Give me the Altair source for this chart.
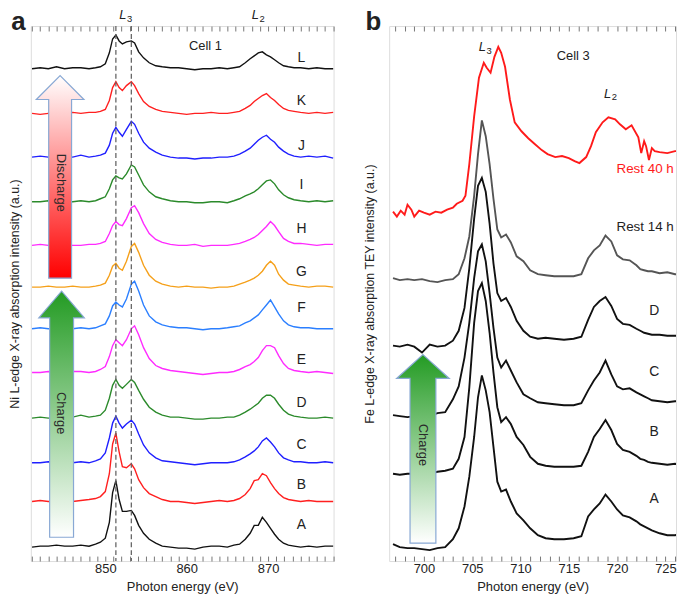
import altair as alt
import pandas as pd

FONT = "Liberation Sans"
TEXT = "#222222"

# ---------------- Panel a: Ni L-edge, Cell 1 ----------------
energy_a = [841, 842, 843, 844, 845, 846, 847, 848, 848.8, 849.4,
            850.0, 850.5, 850.9, 851.3, 851.7, 852.1, 852.6,
            853.2, 853.6, 854.1, 854.7, 855.4, 856.2, 857.0,
            858, 859, 860, 861, 862, 863, 864, 865,
            865.8, 866.5, 867.2, 867.8, 868.3, 868.8, 869.3, 869.8,
            870.3, 870.8, 871.3, 871.9, 872.5, 873.2,
            874, 875, 876, 877, 878]

names_a = ["A", "B", "C", "D", "E", "F", "G", "H", "I", "J", "K", "L"]
colors_a = ["#111111", "#ff1f1f", "#1f1fff", "#2b8a2b", "#ff2bff", "#2b7fff",
            "#f5a01a", "#ff2bff", "#2b8a2b", "#1f1fff", "#ff1f1f", "#111111"]
offsets_a = [14, 60, 99, 144, 190, 234, 276, 318, 362, 407, 451, 496]

ni_A = [0, 1, 1, 2, 1, 1, 2, 1, 3, 5, 9, 25, 55, 67, 48, 36, 36, 37, 32, 22, 14, 8, 4, 1,
        0, -1, -1, -2, 0, 1, 1, 0, 2, 3, 8, 14, 22, 22, 30, 25, 19, 13, 8, 4, 2, 1, 0, 1, 0, 1, 1]
ni_B = [0, 1, 0, 0, 1, 0, 1, 2, 3, 5, 10, 28, 58, 69, 50, 35, 34, 38, 33, 22, 14, 8, 5, 2,
        0, 0, -1, -2, -1, 0, 1, 0, 1, 3, 7, 13, 21, 22, 28, 26, 19, 13, 8, 4, 2, 1, 0, 1, 0, 0, 0]
ni_C = [0, 0, 1, 0, -1, 0, 1, 0, 2, 4, 10, 25, 40, 47, 40, 35, 39, 43, 39, 29, 18, 10, 5, 2,
        1, 0, -1, -2, -1, 0, 0, 0, 1, 3, 6, 9, 12, 16, 22, 25, 21, 16, 10, 5, 3, 1, 1, 0, 0, 1, 0]
ni_D = [0, 1, 0, 1, 0, 1, 3, 1, 2, 3, 8, 20, 33, 39, 33, 30, 34, 39, 36, 28, 19, 11, 6, 3,
        1, 1, 0, -1, -1, 0, 0, 1, 1, 3, 6, 9, 12, 15, 20, 23, 23, 20, 14, 8, 4, 2, 1, 0, 0, 1, 0]
ni_E = [0, 0, 1, 0, 0, 1, 1, 0, 1, 3, 6, 16, 27, 33, 30, 27, 33, 44, 47, 38, 25, 14, 7, 4,
        2, 1, 0, -1, -2, -1, 0, 0, 1, 3, 6, 8, 11, 15, 22, 27, 27, 25, 17, 9, 4, 2, 1, 0, 1, 0, -1]
ni_F = [0, 1, 0, 0, 1, 0, 1, 0, 1, 3, 5, 13, 23, 27, 24, 22, 30, 45, 48, 38, 24, 13, 7, 4,
        2, 1, 1, 0, -1, 0, 0, 1, 2, 3, 6, 8, 11, 14, 19, 24, 29, 22, 15, 8, 4, 2, 1, 1, 0, 0, 0]
ni_G = [0, 0, 1, 0, 0, 1, 0, 0, 1, 2, 4, 12, 21, 24, 19, 17, 26, 41, 44, 35, 22, 12, 6, 3,
        1, 0, 1, 0, 0, -1, 0, 0, 1, 3, 5, 7, 9, 12, 16, 22, 26, 22, 13, 7, 3, 2, 1, 0, 1, 1, 0]
ni_H = [0, 1, 0, 0, 1, 0, 0, 1, 1, 2, 4, 12, 20, 24, 21, 20, 27, 38, 40, 33, 22, 12, 6, 3,
        1, 0, 0, 1, -1, 0, 0, 0, 1, 2, 4, 6, 8, 11, 15, 19, 24, 20, 14, 7, 4, 2, 2, 1, 0, 1, 1]
ni_I = [0, 0, 1, 0, -1, 0, 1, 0, 1, 3, 5, 13, 22, 26, 24, 23, 28, 37, 35, 27, 17, 10, 5, 3,
        1, 0, 0, -1, -1, 0, 0, -1, 1, 3, 6, 8, 10, 13, 17, 21, 22, 18, 12, 7, 4, 2, 1, 0, 1, 0, 1]
ni_J = [0, 1, 0, -1, 1, 0, 2, 0, 1, 2, 4, 12, 24, 30, 25, 21, 28, 36, 33, 24, 15, 9, 5, 2,
        0, -1, -1, -2, -1, -1, 0, 0, 1, 3, 6, 9, 13, 17, 20, 22, 18, 15, 10, 6, 3, 1, 0, 1, 0, 1, -1]
ni_K = [0, -1, 0, 1, 0, 1, 0, 1, 1, 2, 4, 13, 26, 32, 26, 23, 28, 32, 28, 20, 12, 7, 4, 2,
        1, 0, -1, 0, 0, 1, 0, 0, 1, 2, 5, 8, 12, 15, 18, 20, 16, 13, 9, 5, 3, 2, 1, 0, 1, 0, 1]
ni_L = [0, 1, 0, 2, 0, 1, 1, 0, 1, 2, 5, 16, 30, 34, 28, 25, 27, 28, 26, 17, 11, 6, 3, 2,
        1, 1, 0, -1, 0, 0, 1, 0, 1, 2, 6, 10, 13, 16, 17, 14, 12, 9, 6, 3, 2, 1, 1, 0, 1, 0, 0]
curves_a = [ni_A, ni_B, ni_C, ni_D, ni_E, ni_F, ni_G, ni_H, ni_I, ni_J, ni_K, ni_L]

l3_lines_a = [851.3, 853.2]
label_y_a = [36, 77, 117, 159, 203, 255, 291, 335, 379, 418, 463, 507]
ticks_a = list(range(841, 879))

# ---------------- Panel b: Fe L-edge, Cell 3 ----------------
energy_b = [696.8, 697.5, 698.3, 699.0, 699.8, 700.6, 701.4, 702.2,
            703.0, 703.6, 704.2, 704.7, 705.2, 705.6, 706.0, 706.4,
            706.8, 707.2, 707.6, 708.0, 708.5, 709.0, 709.6, 710.3,
            711.0, 711.8, 712.6, 713.5, 714.5, 715.5, 716.3, 717.0,
            717.6, 718.2, 718.8, 719.4, 720.0, 720.6, 721.3, 722.0,
            722.4, 722.8, 723.2, 723.6, 724.4, 725.2, 726.0, 726.8]
fe_A = [17, 14, 13, 13, 12, 11, 13, 14, 22, 33, 55, 85, 125, 165, 187, 172,
        150, 115, 80, 70, 72, 60, 48, 41, 33, 26, 23, 22, 22, 23, 25, 45,
        52, 58, 67, 60, 52, 46, 44, 40, 37, 35, 33, 31, 28, 26, 26, 28]
fe_B = [88, 87, 88, 88, 87, 88, 90, 91, 93, 103, 125, 175, 240, 272, 280, 262,
        230, 190, 155, 140, 145, 138, 125, 117, 105, 98, 96, 95, 95, 95, 96, 110,
        125, 133, 142, 132, 118, 112, 110, 106, 103, 102, 100, 99, 98, 97, 98, 96]
fe_C = [147, 146, 145, 146, 147, 146, 149, 150, 163, 176, 205, 240, 285, 312, 319, 302,
        270, 235, 205, 195, 202, 192, 180, 168, 164, 160, 159, 158, 157, 157, 159, 172,
        182, 190, 202, 188, 176, 173, 174, 170, 168, 166, 164, 162, 161, 160, 161, 161]
fe_D = [217, 216, 218, 216, 210, 218, 216, 217, 222, 232, 255, 295, 345, 378, 386, 372,
        340, 300, 270, 262, 265, 256, 242, 232, 226, 224, 225, 224, 223, 224, 226, 243,
        256, 262, 266, 257, 244, 239, 238, 234, 232, 230, 229, 228, 228, 227, 227, 227]
fe_rest14 = [285, 283, 284, 283, 284, 282, 281, 283, 284, 289, 305, 327, 368, 410, 444, 428,
             400, 365, 334, 326, 329, 321, 307, 302, 293, 289, 288, 287, 287, 287, 289, 305,
             313, 318, 328, 322, 308, 304, 303, 298, 294, 293, 292, 292, 290, 291, 289, 289]
energy_rest40 = [696.8, 697.2, 697.6, 698.0, 698.3, 698.7, 699.0, 699.5, 700.0, 700.6,
                 701.2, 701.8, 702.4, 703.0, 703.4, 704.0, 704.3, 704.7, 705.2, 705.7,
                 706.2, 706.5, 706.9, 707.3, 707.7, 708.0, 708.4, 708.9, 709.4, 710.1,
                 710.8, 711.5, 712.2, 712.8, 713.6, 714.3, 715.0, 715.6, 716.1, 716.8,
                 717.3, 717.8, 718.5, 719.1, 719.8, 720.3, 720.9, 721.5, 722.2, 722.5,
                 722.8, 723.0, 723.3, 723.6, 723.9, 724.4, 725.2, 726.0, 726.8]
fe_rest40 = [352, 347, 353, 349, 359, 354, 347, 353, 351, 349,
             352, 351, 354, 356, 360, 363, 368, 400, 448, 487,
             502, 497, 492, 508, 518, 512, 498, 465, 442, 433,
             426, 420, 414, 410, 407, 408, 406, 403, 401, 407,
             418, 432, 442, 447, 445, 440, 435, 439, 427, 411,
             423, 418, 404, 416, 413, 412, 411, 413, 413]
names_b = ["A", "B", "C", "D", "Rest 14 h", "Rest 40 h"]
colors_b = ["#111111", "#111111", "#111111", "#111111", "#555555", "#ff1a1a"]
label_y_b = [62, 130, 190, 252]
ticks_b = list(range(697, 727))

# ---------------- tables ----------------
rows = []
for name, off, vals in zip(names_a, offsets_a, curves_a):
    for e, v in zip(energy_a, vals):
        rows.append({"energy": e, "intensity": off + v, "curve": name})
df_a = pd.DataFrame(rows)

rows = []
for name, vals in zip(names_b[:5], [fe_A, fe_B, fe_C, fe_D, fe_rest14]):
    for e, v in zip(energy_b, vals):
        rows.append({"energy": e, "intensity": v, "curve": name})
for e, v in zip(energy_rest40, fe_rest40):
    rows.append({"energy": e, "intensity": v, "curve": "Rest 40 h"})
df_b = pd.DataFrame(rows)

xs_a = alt.Scale(domain=[840.85, 878.05], nice=False, zero=False)
ys_a = alt.Scale(domain=[0, 539], nice=False, zero=False)
xs_b = alt.Scale(domain=[696.4, 726.1], nice=False, zero=False)
ys_b = alt.Scale(domain=[0, 539], nice=False, zero=False)


def bottom_axis(values, step):
    return alt.Axis(orient="bottom", values=values,
                    labelExpr=f"datum.value % {step} === 0 ? datum.label : ''",
                    offset=-5, tickSize=5, tickColor="#777777", tickWidth=1,
                    domain=False, grid=False, labelPadding=2, labelFontSize=13,
                    labelColor=TEXT, labelFont=FONT, labelFlush=False,
                    title="Photon energy (eV)", titleFontSize=13, titleFontWeight="normal",
                    titleColor=TEXT, titleFont=FONT, titlePadding=5)


def top_axis(values):
    return alt.Axis(orient="top", values=values, labels=False, offset=-5, tickSize=5,
                    tickColor="#777777", tickWidth=1, domain=False, grid=False, title=None)


def left_axis(title, pad):
    return alt.Axis(title=title, labels=False, ticks=False, domain=False, grid=False,
                    titlePadding=pad, titleFontSize=12.5, titleFontWeight="normal",
                    titleColor=TEXT, titleFont=FONT)


Y_TITLE_A = "Ni L-edge X-ray absorption intensity (a.u.)"
Y_TITLE_B = "Fe L-edge X-ray absorption TEY intensity (a.u.)"
yax_a = left_axis(Y_TITLE_A, 9)
yax_b = left_axis(Y_TITLE_B, 13)


def text_layer(df, xs, ys, yax, color=TEXT, **kw):
    return alt.Chart(df).mark_text(font=FONT, color=color, **kw).encode(
        x=alt.X("energy:Q", scale=xs, axis=None),
        y=alt.Y("intensity:Q", scale=ys, axis=yax),
        text="label:N",
    )


def arrow_layer(energy, intensity, path, height, grad, xs, ys, yax):
    df = pd.DataFrame({"energy": [energy], "intensity": [intensity]})
    return alt.Chart(df).mark_point(shape=path, size=height * height, filled=True, fill=grad,
                                    stroke="#88a8d4", strokeWidth=1.2, opacity=1).encode(
        x=alt.X("energy:Q", scale=xs, axis=None),
        y=alt.Y("intensity:Q", scale=ys, axis=yax),
    )


red_grad = {"gradient": "linear", "x1": 0, "y1": 0, "x2": 0, "y2": 1,
            "stops": [{"offset": 0, "color": "#ffffff"}, {"offset": 1, "color": "#ff0000"}]}
green_grad = {"gradient": "linear", "x1": 0, "y1": 0, "x2": 0, "y2": 1,
              "stops": [{"offset": 0, "color": "#239b23"}, {"offset": 1, "color": "#ffffff"}]}

# ---------------- panel a layers ----------------
lines_a = alt.Chart(df_a).mark_line(strokeWidth=1.4).encode(
    x=alt.X("energy:Q", scale=xs_a, axis=bottom_axis(ticks_a, 10)),
    y=alt.Y("intensity:Q", scale=ys_a, axis=yax_a),
    color=alt.Color("curve:N", scale=alt.Scale(domain=names_a, range=colors_a), legend=None),
    detail="curve:N",
)
rules_a = alt.Chart(pd.DataFrame({"energy": l3_lines_a})).mark_rule(
    strokeDash=[5, 3], color="#666666", strokeWidth=1.3).encode(
    x=alt.X("energy:Q", scale=xs_a, axis=top_axis(ticks_a)))

lab_a = text_layer(pd.DataFrame({"energy": [874.1] * 12, "intensity": label_y_a, "label": names_a}),
                   xs_a, ys_a, yax_a, fontSize=14, align="center", baseline="middle")
cell_a = text_layer(pd.DataFrame({"energy": [862.3], "intensity": [519], "label": ["Cell 1"]}),
                    xs_a, ys_a, yax_a, fontSize=13, align="center", baseline="middle")
tag_a = text_layer(pd.DataFrame({"energy": [838.45], "intensity": [535], "label": ["a"]}),
                   xs_a, ys_a, yax_a, fontSize=26, fontWeight="bold", align="left", baseline="alphabetic")
edge_a = text_layer(pd.DataFrame({"energy": [852.16, 868.45], "intensity": [546, 546], "label": ["L", "L"]}),
                    xs_a, ys_a, yax_a, fontSize=13, fontStyle="italic", align="center", baseline="alphabetic")
sub_a = text_layer(pd.DataFrame({"energy": [853.0, 869.27], "intensity": [543, 543], "label": ["3", "2"]}),
                   xs_a, ys_a, yax_a, fontSize=9.5, align="center", baseline="alphabetic")
arrow_dis = arrow_layer(844.45, 387,
                        "M0,-1 L0.235,-0.765 L0.113,-0.765 L0.113,1 L-0.113,1 L-0.113,-0.765 L-0.235,-0.765 Z",
                        204, red_grad, xs_a, ys_a, yax_a)
arrow_chg_a = arrow_layer(844.63, 148,
                          "M0,-1 L0.185,-0.782 L0.097,-0.782 L0.097,1 L-0.097,1 L-0.097,-0.782 L-0.185,-0.782 Z",
                          248, green_grad, xs_a, ys_a, yax_a)
arrow_txt_a = text_layer(pd.DataFrame({"energy": [844.5, 844.5], "intensity": [381, 149],
                                       "label": ["Discharge", "Charge"]}),
                         xs_a, ys_a, yax_a, color="#2a2a2a", fontSize=13, angle=90,
                         align="center", baseline="middle")

panel_a = alt.layer(lines_a, rules_a, arrow_dis, arrow_chg_a, arrow_txt_a, lab_a, cell_a,
                    tag_a, edge_a, sub_a).resolve_axis(x="independent").properties(width=305, height=539)

# ---------------- panel b layers ----------------
lines_b = alt.Chart(df_b).mark_line(strokeWidth=1.9, clip=True).encode(
    x=alt.X("energy:Q", scale=xs_b, axis=bottom_axis(ticks_b, 5)),
    y=alt.Y("intensity:Q", scale=ys_b, axis=yax_b),
    color=alt.Color("curve:N", scale=alt.Scale(domain=names_b, range=colors_b), legend=None),
    detail="curve:N",
)
label_df_b = pd.DataFrame({"energy": [723.84] * 4, "intensity": label_y_b, "label": names_b[:4]})
lab_b = alt.Chart(label_df_b).mark_text(font=FONT, color=TEXT, fontSize=14, align="center",
                                        baseline="middle").encode(
    x=alt.X("energy:Q", scale=xs_b, axis=top_axis(ticks_b)),
    y=alt.Y("intensity:Q", scale=ys_b, axis=yax_b),
    text="label:N",
)
rest14_lab = text_layer(pd.DataFrame({"energy": [722.9], "intensity": [337], "label": ["Rest 14 h"]}),
                        xs_b, ys_b, yax_b, fontSize=13.5, align="center", baseline="middle")
rest40_lab = text_layer(pd.DataFrame({"energy": [722.9], "intensity": [395], "label": ["Rest 40 h"]}),
                        xs_b, ys_b, yax_b, color="#ff1a1a", fontSize=13.5, align="center", baseline="middle")
cell_b = text_layer(pd.DataFrame({"energy": [715.45], "intensity": [509], "label": ["Cell 3"]}),
                    xs_b, ys_b, yax_b, fontSize=13, align="center", baseline="middle")
tag_b = text_layer(pd.DataFrame({"energy": [693.94], "intensity": [535], "label": ["b"]}),
                   xs_b, ys_b, yax_b, fontSize=26, fontWeight="bold", align="left", baseline="alphabetic")
edge_b = text_layer(pd.DataFrame({"energy": [706.06, 719.01], "intensity": [514, 467], "label": ["L", "L"]}),
                    xs_b, ys_b, yax_b, fontSize=13, fontStyle="italic", align="center", baseline="alphabetic")
sub_b = text_layer(pd.DataFrame({"energy": [706.75, 719.73], "intensity": [511, 464], "label": ["3", "2"]}),
                   xs_b, ys_b, yax_b, fontSize=9.5, align="center", baseline="alphabetic")
arrow_chg_b = arrow_layer(699.9, 113,
                          "M0,-1 L0.279,-0.747 L0.137,-0.747 L0.137,1 L-0.137,1 L-0.137,-0.747 L-0.279,-0.747 Z",
                          190, green_grad, xs_b, ys_b, yax_b)
arrow_txt_b = text_layer(pd.DataFrame({"energy": [699.9], "intensity": [117], "label": ["Charge"]}),
                         xs_b, ys_b, yax_b, color="#2a2a2a", fontSize=13, angle=90,
                         align="center", baseline="middle")

panel_b = alt.layer(lines_b, lab_b, arrow_chg_b, arrow_txt_b, rest14_lab, rest40_lab, cell_b,
                    tag_b, edge_b, sub_b).resolve_axis(x="independent").properties(width=289, height=539)

chart = alt.hconcat(panel_a, panel_b, spacing=26).resolve_scale(
    x="independent", y="independent", color="independent"
).properties(
    padding={"left": 0, "top": -2, "right": 0, "bottom": -3}
).configure_view(stroke="#8a8a8a", strokeWidth=1.5).configure(font=FONT)

chart.save("out.html", embed_options={"renderer": "svg", "actions": False})
